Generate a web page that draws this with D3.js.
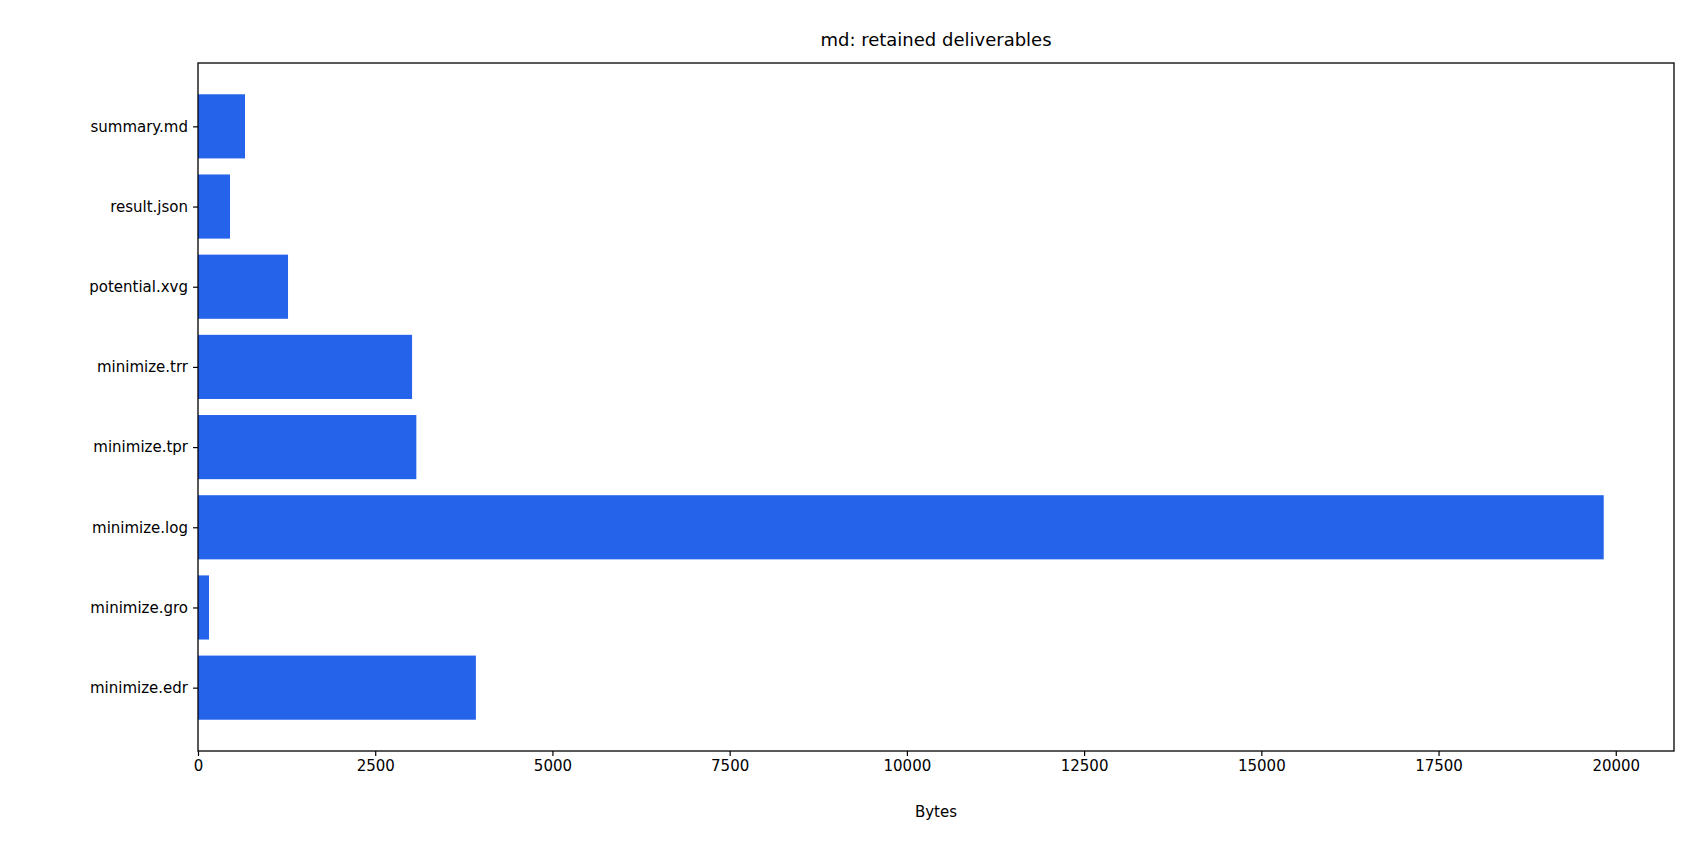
<!DOCTYPE html>
<html><head><meta charset="utf-8">
<script src="https://cdn.jsdelivr.net/npm/d3@7"></script>
<style>body{margin:0;background:#fff}svg{font-family:"DejaVu Sans",sans-serif}</style>
</head><body><svg id="c" width="1700" height="850"></svg>
<script>
const categories = ["minimize.edr","minimize.gro","minimize.log","minimize.tpr","minimize.trr","potential.xvg","result.json","summary.md"];
const values = [3920,155,19830,3080,3020,1270,452,663];
const xTicks = [0,2500,5000,7500,10000,12500,15000,17500,20000];

const L=198,R=1674,T=63,B=751;
const svg=d3.select("#c");
const maxV=d3.max(values);
const x=d3.scaleLinear().domain([0,maxV*1.05]).range([L,R]);
const n=categories.length;
const y=d3.scaleLinear().domain([-0.4-0.39, n-1+0.4+0.39]).range([B,T]);
svg.selectAll("rect.bar").data(categories).join("rect").attr("class","bar")
  .attr("x",x(0)).attr("width",(d,i)=>x(values[i])-x(0))
  .attr("y",(d,i)=>y(i+0.4)).attr("height",(d,i)=>y(i-0.4)-y(i+0.4))
  .attr("fill","#2563eb");
const xa=svg.append("g").attr("transform",`translate(0,${B})`)
  .call(d3.axisBottom(x).tickValues(xTicks).tickFormat(d3.format("d")).tickSizeOuter(0).tickSize(5).tickPadding(4));
const ya=svg.append("g").attr("transform",`translate(${L},0)`)
  .call(d3.axisLeft(y).tickValues(d3.range(n)).tickFormat(i=>categories[i]).tickSizeOuter(0).tickSize(5).tickPadding(5));
[xa,ya].forEach(a=>{a.select(".domain").remove();a.selectAll("text").attr("font-size","15px").attr("fill","#000").attr("font-family","DejaVu Sans");a.selectAll("line").attr("stroke","#000").attr("stroke-width",1.2);});
svg.append("rect").attr("x",L).attr("y",T).attr("width",R-L).attr("height",B-T).attr("fill","none").attr("stroke","#000").attr("stroke-width",1.3);
svg.append("text").attr("x",(L+R)/2).attr("y",46).attr("text-anchor","middle").attr("font-size","18px").text("md: retained deliverables");
svg.append("text").attr("x",(L+R)/2).attr("y",817).attr("text-anchor","middle").attr("font-size","15px").text("Bytes");
</script></body></html>
